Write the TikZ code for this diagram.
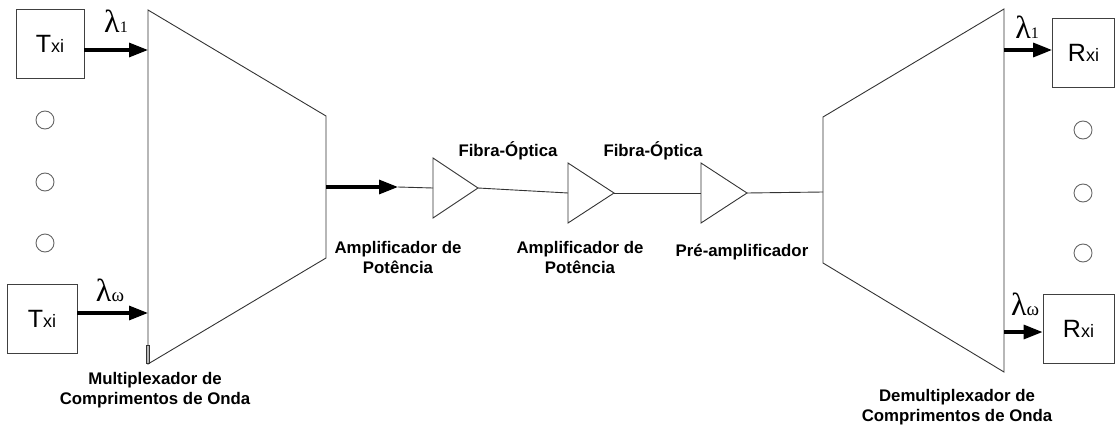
\documentclass[tikz,border=0pt]{standalone}
\usepackage{fontspec}
\setmainfont{Liberation Sans}
\newfontfamily\grk{Liberation Serif}
\usetikzlibrary{arrows.meta}

% wavelength label and box text
\newcommand{\wlen}[2][16]{{\grk\fontsize{32}{32}\selectfont λ\fontsize{#1}{#1}\selectfont #2}}
\newcommand{\boxtxt}[1]{{\fontsize{25}{25}\selectfont #1}{\fontsize{18}{18}\selectfont xi}}

\begin{document}
\begin{tikzpicture}[x=1pt,y=-1pt,>={Triangle[length=19pt,width=14pt]},
  line width=0.9pt,
  unit/.style={draw=black!75,minimum width=68pt,minimum height=69pt,inner sep=0pt},
  sig/.style={->,line width=3.2pt},
  dot/.style={circle,draw=black!60,minimum size=18pt,inner sep=0pt},
  lbl/.style={font=\bfseries\fontsize{16.8}{20}\selectfont,align=center,inner sep=0pt},
  wl/.style={anchor=base,inner sep=0pt}]
  \useasboundingbox (0,0) rectangle (1115,436);

  % multiplexer and demultiplexer
  \draw[black!80] (148,10) -- (326,116) -- (326,258) -- (148,364) -- cycle;
  \draw[black!80] (146,345) rectangle (149,363);
  \coordinate (mux-out) at (326,187);
  \coordinate (l1) at (148,50);
  \coordinate (lw) at (148,313);
  \draw[black!80] (823,117) -- (1004,9) -- (1004,372) -- (823,263) -- cycle;
  \coordinate (dmx-in) at (823,192);
  \coordinate (r1) at (1004,50);
  \coordinate (rw) at (1004,332);

  % transmitters and receivers
  \node[unit] (tx1) at (50,43.5) {\boxtxt{T}};
  \node[unit,minimum width=70pt] (tx2) at (42,318.5) {\boxtxt{T}};
  \node[unit,minimum width=62pt] (rx1) at (1083.5,53) {\boxtxt{R}};
  \node[unit,minimum width=71pt] (rx2) at (1078.5,328.5) {\boxtxt{R}};
  \foreach \y [count=\i] in {120,182,243}
    \node[dot] (ld\i) at (45,\y) {};
  \foreach \y [count=\i] in {130,193,253}
    \node[dot] (rd\i) at (1083,\y) {};

  \draw[sig] (tx1.east |- l1) -- (l1);
  \draw[sig] (tx2.east |- lw) -- (lw);
  \draw[sig] (r1) -- (rx1.west |- r1);
  \draw[sig] (rw) -- (rx2.west |- rw);
  \node[wl] (lam1) at (116,33) {\wlen{1}};
  \node[wl] (lamw) at (110,301) {\wlen[19]{ω}};
  \node[wl] (rlam1) at (1027,38) {\wlen{1}};
  \node[wl] (rlamw) at (1025,315) {\wlen[19]{ω}};

  % amplifiers
  \foreach \n/\x/\y/\w in {a1/433/188/45, a2/568/193/46, a3/701/193/46} {
    \draw[black!80] (\x,\y-30) -- (\x+\w,\y) -- (\x,\y+30) -- cycle;
    \coordinate (\n-in) at (\x,\y);
    \coordinate (\n-out) at (\x+\w,\y);
  }
  \coordinate (tip) at (398,187);
  \draw[sig] (mux-out) -- (tip);
  \draw[black!80] (tip) -- (a1-in);
  \draw[black!80] (a1-out) -- (a2-in);
  \draw[black!80] (a2-out) -- (a3-in);
  \draw[black!80] (a3-out) -- (dmx-in);

  % labels
  \node[lbl] (f1) at (508,151) {Fibra-Óptica};
  \node[lbl] (f2) at (653,151) {Fibra-Óptica};
  \node[lbl] (amp1) at (398,257) {Amplificador de\\Potência};
  \node[lbl] (amp2) at (580,257) {Amplificador de\\Potência};
  \node[lbl] (pre) at (742,252) {Pré-amplificador};
  \node[lbl] (mux) at (155,390) {Multiplexador de\\Comprimentos de Onda};
  \node[lbl] (dmx) at (957,407) {Demultiplexador de\\Comprimentos de Onda};
\end{tikzpicture}
\end{document}
